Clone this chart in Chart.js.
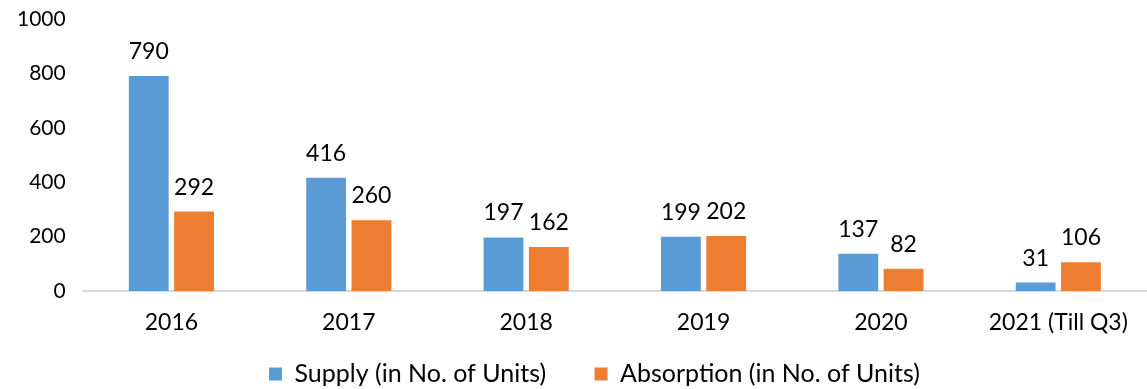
<!DOCTYPE html>
<html>
<head>
<meta charset="utf-8">
<script src="https://cdn.jsdelivr.net/npm/chart.js@4"></script>
<style>
  html, body { margin: 0; padding: 0; background: #fff; }
  .chart-box { width: 1147px; height: 389px; }
</style>
</head>
<body>
<div class="chart-box"><canvas id="unitsChart"></canvas></div>
<script>
// Supply vs absorption by year
const years = ['2016', '2017', '2018', '2019', '2020', '2021 (Till Q3)'];
const supply = [790, 416, 197, 199, 137, 31];
const absorption = [292, 260, 162, 202, 82, 106];
const yTicks = [0, 200, 400, 600, 800, 1000];

const fontFamily = "'Lato', 'DejaVu Sans', sans-serif";

// value labels above each bar
const barLabels = {
    id: 'barLabels',
    afterDatasetsDraw(chart) {
        const ctx = chart.ctx;
        ctx.save();
        ctx.font = '23px ' + fontFamily;
        ctx.fillStyle = '#000';
        ctx.textAlign = 'center';
        ctx.textBaseline = 'alphabetic';
        chart.data.datasets.forEach((ds, i) => {
            chart.getDatasetMeta(i).data.forEach((bar, j) => {
                ctx.fillText(ds.data[j], bar.x, bar.y - 17);
            });
        });
        ctx.restore();
    }
};

const ctx = document.getElementById('unitsChart').getContext('2d');
new Chart(ctx, {
    type: 'bar',
    data: {
        labels: years,
        datasets: [{
            label: 'Supply (in No. of Units)',
            data: supply,
            backgroundColor: '#5B9BD5',
            categoryPercentage: 0.511,
            barPercentage: 0.879
        }, {
            label: 'Absorption (in No. of Units)',
            data: absorption,
            backgroundColor: '#ED7D31',
            categoryPercentage: 0.511,
            barPercentage: 0.879
        }]
    },
    options: {
        responsive: true,
        maintainAspectRatio: false,
        animation: false,
        layout: {
            padding: { top: 0, right: -34, bottom: -7.5, left: 8 }
        },
        plugins: {
            legend: {
                position: 'bottom',
                labels: {
                    boxWidth: 13,
                    boxHeight: 13,
                    padding: 10,
                    color: '#000',
                    font: { family: fontFamily, size: 25 },
                    // wider gap between the two entries
                    generateLabels(chart) {
                        const items = Chart.defaults.plugins.legend.labels.generateLabels(chart);
                        items[0].text += '      ';
                        return items;
                    }
                }
            },
            tooltip: { enabled: false }
        },
        scales: {
            x: {
                grid: { display: false },
                border: { color: '#d9d9d9', width: 2 },
                ticks: {
                    color: '#000',
                    padding: 10,
                    font: { family: fontFamily, size: 23 }
                },
                afterFit(axis) {
                    axis.height = 60.5;
                    axis.paddingLeft = 0;
                    axis.paddingRight = 0;
                }
            },
            y: {
                min: 0,
                max: 1000,
                afterBuildTicks(axis) {
                    axis.ticks = yTicks.map(v => ({ value: v }));
                },
                afterFit(axis) {
                    axis.paddingTop = 19;
                },
                grid: { display: false },
                border: { display: false },
                ticks: {
                    color: '#000',
                    padding: 9,
                    font: { family: fontFamily, size: 21 },
                    callback: value => String(value)
                }
            }
        }
    },
    plugins: [barLabels]
});
</script>
</body>
</html>
